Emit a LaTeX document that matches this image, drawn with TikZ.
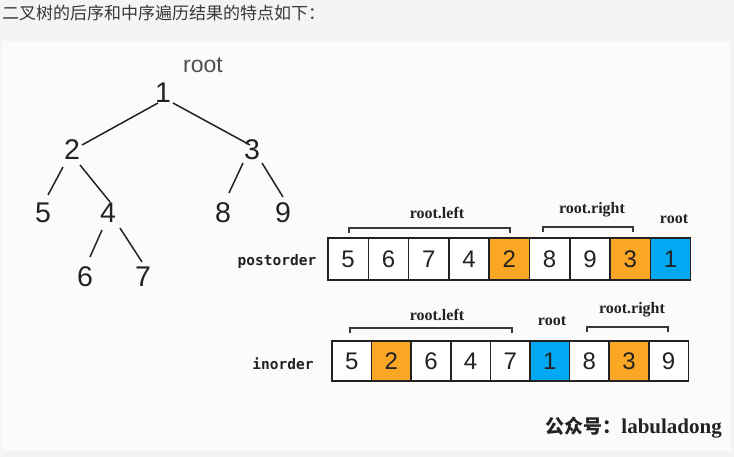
\documentclass[tikz,border=0pt]{standalone}
\usepackage{fontspec}
\setmainfont{Liberation Sans}
\newfontfamily\cjk{Noto Sans CJK SC}
\newfontfamily\serifb{Liberation Serif}
\newfontfamily\monob{DejaVu Sans Mono}
\usetikzlibrary{calc}
\definecolor{pagebg}{HTML}{F4F4F4}
\definecolor{imgbg}{HTML}{FCFBF9}
\definecolor{ink}{HTML}{222222}
\definecolor{orng}{HTML}{FAA726}
\definecolor{blu}{HTML}{00A9F1}
\tikzset{
  treenum/.style={inner sep=0pt, text=ink, font=\fontsize{28.5}{30}\selectfont},
  treeedge/.style={draw=ink, line width=1.5pt},
  cellP/.style={draw=ink, line width=1.5pt, minimum width=40.3pt, minimum height=42pt, inner sep=0pt, text=ink, font=\fontsize{24}{26}\selectfont, fill=white},
  cellI/.style={draw=ink, line width=1.5pt, minimum width=39.6pt, minimum height=40pt, inner sep=0pt, text=ink, font=\fontsize{24}{26}\selectfont, fill=white},
  lbl/.style={inner sep=0pt, text=ink, font=\serifb\bfseries\fontsize{16}{17}\selectfont},
  rowlbl/.style={inner sep=0pt, text=ink, font=\monob\bfseries\fontsize{14.5}{16}\selectfont},
  brk/.style={draw=ink!90, line width=1.2pt},
}
\begin{document}
\begin{tikzpicture}[x=1pt, y=-1pt]
\useasboundingbox (0,0) rectangle (734,457);
\fill[pagebg] (0,0) rectangle (734,457);
\fill[imgbg] (2,41) rectangle (731,451);
% header
\node[anchor=west, inner sep=0pt, text=ink!90, font=\cjk\fontsize{17}{19}\selectfont] (title) at (2,13) {二叉树的后序和中序遍历结果的特点如下：};
% tree
\node[inner sep=0pt, text=ink!80, font=\fontsize{23}{25}\selectfont] (rootlbl) at (203,65) {root};
\node[treenum] (n1) at (163,93) {1};
\node[treenum] (n2) at (72,150) {2};
\node[treenum] (n3) at (252,150) {3};
\node[treenum] (n5) at (43,213) {5};
\node[treenum] (n4) at (108,213) {4};
\node[treenum] (n8) at (223,213) {8};
\node[treenum] (n9) at (283,213) {9};
\node[treenum] (n6) at (85,277) {6};
\node[treenum] (n7) at (143,277) {7};
\draw[treeedge] ($(n1)+(-5,10)$) -- ($(n2)+(10,-5)$);
\draw[treeedge] ($(n1)+(10,10)$) -- ($(n3)+(-2,-5)$);
\draw[treeedge] ($(n2)+(-9,17)$) -- ($(n5)+(5,-18)$);
\draw[treeedge] ($(n2)+(8,15)$) -- ($(n4)+(2,-11)$);
\draw[treeedge] ($(n3)+(-9,13)$) -- ($(n8)+(6,-20)$);
\draw[treeedge] ($(n3)+(10,13)$) -- ($(n9)+(0,-16)$);
\draw[treeedge] ($(n4)+(-6,17)$) -- ($(n6)+(5,-20)$);
\draw[treeedge] ($(n4)+(12,15)$) -- ($(n7)+(-1,-15)$);
% postorder row
\node[rowlbl] (post) at (277,262) {postorder};
\foreach \v [count=\i] in {5,6,7,4,2,8,9,3,1} {
  \node[cellP] (p\i) at ({328+40.3*(\i-0.5)},259) {\v};
}
\node[cellP, fill=orng] at (p5) {2};
\node[cellP, fill=orng] at (p8) {3};
\node[cellP, fill=blu] at (p9) {1};
\node[lbl] (plt) at (437,213) {root.left};
\node[lbl] (prt) at (592,210) {root.right};
\node[lbl] (prr) at (674,219) {root};
\coordinate (pb1a) at (349,233); \coordinate (pb1b) at (510,233);
\coordinate (pb2a) at (543,232); \coordinate (pb2b) at (633,232);
\draw[brk] (pb1a) -- ++(0,-5) -| (pb1b);
\draw[brk] (pb2a) -- ++(0,-5) -| (pb2b);
% inorder row
\node[rowlbl] (ino) at (283,364) {inorder};
\foreach \v [count=\i] in {5,2,6,4,7,1,8,3,9} {
  \node[cellI] (q\i) at ({332+39.6*(\i-0.5)},361) {\v};
}
\node[cellI, fill=orng] at (q2) {2};
\node[cellI, fill=blu] at (q6) {1};
\node[cellI, fill=orng] at (q8) {3};
\node[lbl] (ilt) at (437,315) {root.left};
\node[lbl] (irr) at (552,321) {root};
\node[lbl] (irt) at (632,310) {root.right};
\coordinate (ib1a) at (350,333); \coordinate (ib1b) at (512,333);
\coordinate (ib2a) at (587,332); \coordinate (ib2b) at (668,332);
\draw[brk] (ib1a) -- ++(0,-5) -| (ib1b);
\draw[brk] (ib2a) -- ++(0,-5) -| (ib2b);
% watermark
\node[anchor=east, inner sep=0pt, text=ink] (wm) at (722,428) {{\cjk\bfseries\fontsize{19}{21}\selectfont 公众号：}{\serifb\bfseries\fontsize{21}{22}\selectfont labuladong}};
\end{tikzpicture}
\end{document}
